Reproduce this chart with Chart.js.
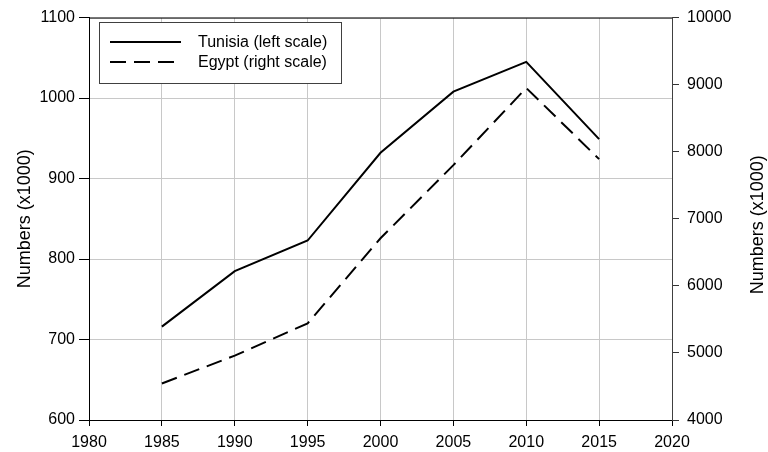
<!DOCTYPE html>
<html>
<head>
<meta charset="utf-8">
<script src="https://cdn.jsdelivr.net/npm/chart.js@4/dist/chart.umd.min.js"></script>
<style>
  body { margin: 0; background: #fff; }
  #wrap { width: 768px; height: 452px; }
</style>
</head>
<body>
<div id="wrap"><canvas id="grafico" width="768" height="452"></canvas></div>
<script>
const years = [1985, 1990, 1995, 2000, 2005, 2010, 2015];
const tunisia = [716, 785, 823, 932, 1008, 1045, 949];
const egypt = [4545, 4960, 5440, 6710, 7800, 8950, 7890];
const seriesNames = ['Tunisia (left scale)', 'Egypt (right scale)'];
const axisTitle = 'Numbers (x1000)';

const FONT = 'Arial, "Liberation Sans", sans-serif';
Chart.defaults.font.family = FONT;
Chart.defaults.font.size = 16;
Chart.defaults.color = '#000';

// top frame line, right axis title and the boxed legend
const extras = {
    id: 'extras',
    afterDraw(chart) {
        const ctx = chart.ctx;
        const a = chart.chartArea;
        ctx.save();
        ctx.strokeStyle = '#000';
        ctx.lineWidth = 1;
        ctx.beginPath();
        ctx.moveTo(a.left, a.top + 0.5);
        ctx.lineTo(a.right, a.top + 0.5);
        ctx.stroke();

        ctx.font = '18px ' + FONT;
        ctx.fillStyle = '#000';
        ctx.textAlign = 'center';
        ctx.textBaseline = 'middle';
        ctx.translate(758, (a.top + a.bottom) / 2 + 6);
        ctx.rotate(-Math.PI / 2);
        ctx.fillText(axisTitle, 0, 0);
        ctx.restore();

        ctx.save();
        ctx.fillStyle = '#fff';
        ctx.fillRect(99.5, 22.5, 242, 61);
        ctx.strokeStyle = '#404040';
        ctx.lineWidth = 1;
        ctx.strokeRect(99.5, 22.5, 242, 61);
        chart.data.datasets.forEach((ds, i) => {
            const y = 42 + i * 20;
            ctx.strokeStyle = ds.borderColor;
            ctx.lineWidth = ds.borderWidth;
            ctx.setLineDash(ds.borderDash || []);
            ctx.beginPath();
            ctx.moveTo(110, y);
            ctx.lineTo(181, y);
            ctx.stroke();
            ctx.setLineDash([]);
            ctx.font = '16px ' + FONT;
            ctx.fillStyle = '#000';
            ctx.textAlign = 'left';
            ctx.textBaseline = 'middle';
            ctx.fillText(ds.label, 198, y + 1);
        });
        ctx.restore();
    }
};

const ctx = document.getElementById('grafico').getContext('2d');
new Chart(ctx, {
    type: 'line',
    data: {
        datasets: [{
            label: seriesNames[0],
            data: years.map((x, i) => ({ x: x, y: tunisia[i] })),
            borderColor: '#000',
            borderWidth: 2,
            pointRadius: 0,
            tension: 0,
            yAxisID: 'y'
        }, {
            label: seriesNames[1],
            data: years.map((x, i) => ({ x: x, y: egypt[i] })),
            borderColor: '#000',
            borderWidth: 2,
            borderDash: [16, 8],
            pointRadius: 0,
            tension: 0,
            yAxisID: 'y1'
        }]
    },
    options: {
        responsive: false,
        animation: false,
        layout: { padding: { top: 13, left: 0, right: 0, bottom: 0 } },
        plugins: {
            legend: { display: false },
            tooltip: { enabled: false }
        },
        scales: {
            x: {
                type: 'linear',
                min: 1980,
                max: 2020,
                ticks: { stepSize: 5, padding: 7, callback: v => String(v), maxRotation: 0 },
                grid: { color: '#c8c8c8', tickColor: '#000', tickLength: 6 },
                border: { color: '#000' },
                afterFit: s => { s.height = 32; }
            },
            y: {
                position: 'left',
                min: 600,
                max: 1100,
                ticks: { stepSize: 100, padding: 4, callback: v => String(v) },
                grid: { color: '#c8c8c8', tickColor: '#000', tickLength: 10 },
                border: { color: '#000' },
                title: { display: true, text: axisTitle, font: { size: 18 }, padding: { top: 14, bottom: 0 } },
                afterFit: s => { s.width = 89; }
            },
            y1: {
                position: 'right',
                min: 4000,
                max: 10000,
                ticks: { stepSize: 1000, padding: 8, callback: v => String(v) },
                grid: { drawOnChartArea: false, tickColor: '#333', tickLength: 7 },
                border: { color: '#404040' },
                afterFit: s => { s.width = 96; }
            }
        }
    },
    plugins: [extras]
});
</script>
</body>
</html>
